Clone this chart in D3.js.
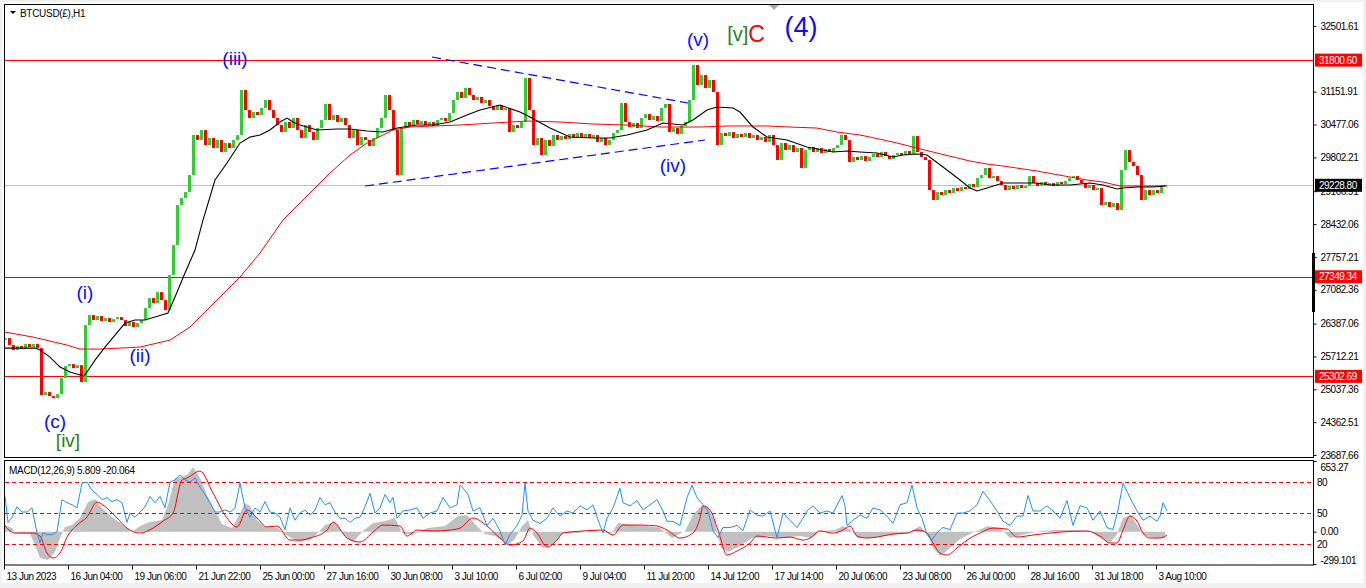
<!DOCTYPE html>
<html>
<head>
<meta charset="utf-8">
<script src="https://cdn.jsdelivr.net/npm/d3@7.9.0/dist/d3.min.js"></script>
<style>
  html, body { margin: 0; padding: 0; background: #fff; overflow: hidden; }
  svg { display: block; font-family: "Liberation Sans", Arial, sans-serif; }
</style>
</head>
<body>
<div id="chart"></div>
<script>
// H1 closes, one every 4 bars (bar 0 = 13 Jun 2023 00:00)
const barStep = 4;
const closes = [26090,25946,25843,25926,25864,25967,25905,25967,25885,24919,24980,24898,24857,24939,25268,25515,25556,25473,25535,25186,
  26357,26563,26460,26542,26439,26501,26419,26480,26522,26460,26337,26419,26316,26398,26460,26706,26912,26809,27035,26871,26665,
  27385,28001,28823,28967,29090,29440,30262,30159,30364,30056,30200,29994,30159,29912,30097,29994,30159,30262,
  31186,30775,30611,30734,30673,30816,30981,30775,30611,30467,30323,30529,30405,30611,30364,30200,30467,30323,30159,30405,30570,30899,
  30570,30673,30529,30611,30467,30200,30364,30056,30220,30159,30036,30200,30405,30611,31084,30775,30364,29440,30405,
  30529,30447,30570,30488,30549,30467,30529,30447,30570,30611,30549,30714,30981,31145,31022,31228,31084,30981,31043,30919,30981,30858,30775,30878,30775,30816,
  30323,30467,30405,30529,31433,30775,30056,30200,29851,30159,30036,30262,30159,30241,30179,30282,30200,30303,30220,30282,30200,30262,30118,30200,30056,30159,30303,30364,
  30919,30529,30426,30508,30405,30611,30693,30570,30652,30549,30816,30899,30323,30405,30282,30447,30529,30981,31700,31289,31495,31228,31392,31145,
  30056,30303,30241,30323,30200,30282,30220,30303,30200,30262,30159,30220,30118,30262,30056,29748,30097,29953,30056,29912,29994,29584,
  29953,30015,29912,29994,29892,29974,29912,29994,30056,30262,30159,29707,29810,29748,29830,29727,29810,29871,29810,29912,29830,29768,29851,29892,29851,29933,29871,30241,29912,29810,29748,
  29131,28926,29090,29029,29131,29070,29172,29111,29193,29152,29255,29193,29378,29440,29584,29378,29419,29316,29234,29131,29214,29152,29234,29172,29214,
  29419,29275,29214,29296,29234,29275,29214,29296,29255,29316,29378,29419,29337,29275,29172,29234,29131,29172,
  28823,28885,28782,28864,28720,29542,29953,29707,29625,29440,28926,29131,29029,29131,29070,29234,29229];

// moving averages [bar, price]
const maFast = [[0,25884],[30,25884],[35,25843],[45,25700],[55,25494],[65,25391],[75,25330],[80,25330],[90,25638],[100,25905],
  [110,26152],[120,26398],[130,26460],[140,26460],[150,26522],[163,26604],[170,26933],[180,27426],[190,27898],[198,28515],
  [210,29337],[222,29686],[235,30097],[245,30220],[255,30262],[265,30364],[275,30529],[282,30611],[288,30529],[295,30467],
  [312,30364],[332,30385],[345,30385],[362,30344],[378,30323],[392,30405],[412,30467],[428,30467],[445,30529],[462,30673],
  [475,30775],[495,30878],[515,30734],[525,30632],[545,30405],[565,30220],[588,30200],[605,30200],[622,30262],[642,30364],
  [658,30508],[678,30467],[688,30570],[702,30775],[712,30837],[728,30816],[735,30734],[748,30426],[762,30220],[782,30159],
  [802,30015],[828,29912],[842,29933],[855,29912],[872,29892],[888,29810],[898,29851],[912,29871],[922,29851],[938,29604],
  [955,29337],[965,29172],[972,29111],[982,29172],[998,29275],[1032,29275],[1045,29234],[1065,29234],[1085,29275],[1098,29234],
  [1112,29152],[1118,29172],[1132,29193],[1148,29193],[1160,29214]];
const maSlow = [[0,26213],[28,26111],[62,25946],[75,25864],[95,25864],[135,25905],[165,26049],[185,26316],[212,26871],[235,27344],
  [255,27837],[278,28515],[305,29070],[325,29481],[345,29851],[362,30097],[378,30262],[388,30364],[405,30426],[428,30447],
  [455,30467],[488,30508],[522,30549],[555,30529],[588,30488],[622,30467],[655,30426],[695,30426],[722,30447],[762,30447],
  [785,30426],[812,30405],[832,30323],[855,30262],[865,30220],[892,30097],[912,29994],[932,29892],[965,29727],[982,29666],
  [998,29625],[1032,29522],[1065,29399],[1082,29337],[1098,29296],[1115,29214],[1132,29214],[1160,29214]];

// horizontal levels and trend channel [bar, price]
const redLevels = [31800.60, 27349.34, 25302.69];
const lastPrice = 29228.80;
const trendUpper = [[427,31864],[683,30919]];
const trendLower = [[360,29214],[700,30159]];

// wave labels
const waveLabels = [
  {t:"(iii)", bar:230, price:31844, color:"#0a0aff", size:19},
  {t:"(v)",   bar:693, price:32214, color:"#0a0aff", size:19},
  {t:"(4)",   bar:796, price:32481, color:"#0a0aff", size:27},
  {t:"(iv)",  bar:668, price:29645, color:"#0a0aff", size:19},
  {t:"(i)",   bar:80,  price:27035, color:"#0a0aff", size:19},
  {t:"(ii)",  bar:135, price:25740, color:"#0a0aff", size:19},
  {t:"(c)",   bar:50,  price:24384, color:"#0a0aff", size:19},
  {t:"[iv]",  bar:63,  price:23994, color:"#2a7d1a", size:19}
];

// MACD(12,26,9): main (histogram) and signal [bar, value]
const macdMain = [[0,61],[7,33],[10,-13],[25,-22],[30,-124],[35,-244],[43,-263],[50,-189],[55,-59],[60,43],[67,61],[75,126],
  [83,274],[90,301],[97,218],[107,135],[117,70],[127,-4],[135,52],[145,89],[157,107],[163,246],[170,496],[177,505],[183,533],
  [188,598],[195,496],[202,338],[210,190],[217,70],[227,33],[233,135],[240,265],[245,237],[252,107],[260,43],[273,33],[283,-41],
  [293,-96],[305,-78],[312,-22],[320,61],[330,89],[339,-31],[348,-96],[358,6],[368,80],[380,98],[390,126],[397,-13],[407,-31],
  [423,33],[440,52],[453,144],[462,154],[470,70],[480,-22],[490,-41],[498,-87],[503,-124],[510,-68],[517,52],[523,107],
  [528,-31],[538,-152],[548,-115],[558,-13],[575,-13],[590,15],[600,-13],[607,-13],[613,80],[627,61],[643,52],[655,33],
  [667,-59],[680,6],[688,154],[697,246],[703,228],[710,89],[716,-152],[723,-189],[735,-133],[747,-59],[763,-41],[777,-59],
  [795,-41],[807,-59],[815,6],[830,15],[838,52],[846,15],[853,-59],[865,-59],[885,-31],[903,-13],[915,52],[922,-13],
  [928,-152],[935,-226],[945,-152],[955,-68],[967,-13],[983,52],[995,33],[1005,-59],[1017,-31],[1035,6],[1050,15],[1070,15],
  [1085,6],[1095,-59],[1105,-106],[1112,-22],[1118,126],[1126,154],[1132,61],[1140,-41],[1150,-59],[1160,-59]];
const macdSignal = [[0,52],[10,-13],[28,-13],[35,-41],[42,-198],[48,-244],[55,-198],[62,-50],[72,61],[82,135],[92,274],[98,246],
  [112,126],[122,33],[135,-13],[148,33],[158,98],[168,172],[177,477],[182,496],[195,560],[208,357],[222,126],[232,43],[242,200],
  [252,126],[262,43],[272,52],[285,-78],[295,-78],[305,-59],[322,15],[328,89],[342,-59],[355,-96],[368,-4],[378,61],[395,52],
  [402,-41],[412,15],[428,6],[445,15],[455,33],[468,126],[482,52],[495,-59],[505,-124],[518,-87],[525,33],[532,-13],[542,-142],
  [552,-78],[558,-13],[578,6],[598,15],[608,-31],[618,61],[635,61],[652,52],[662,15],[675,-59],[688,-13],[695,126],[698,237],
  [705,200],[713,15],[722,-216],[732,-179],[745,-105],[752,-41],[772,-59],[785,-50],[798,-78],[805,-59],[815,6],[828,-13],
  [838,15],[845,52],[852,-41],[862,-59],[872,-50],[888,-22],[902,-13],[912,15],[922,-13],[928,-105],[935,-198],[942,-216],
  [952,-152],[962,-78],[975,-13],[988,33],[1002,24],[1012,-50],[1028,-31],[1055,-4],[1082,6],[1095,-41],[1105,-105],[1112,-105],
  [1118,15],[1125,144],[1132,98],[1138,-13],[1145,-59],[1155,-59],[1162,-31]];
// overlaid oscillator (0-100) with levels 80/50/20
const osc = [[0,66],[3,41],[7,46],[12,56],[17,51],[22,51],[27,55],[32,31],[35,21],[38,31],[42,29],[47,29],[52,32],[57,63],[62,60],
  [67,58],[72,55],[77,79],[82,80],[87,72],[92,68],[97,63],[102,65],[107,61],[112,63],[117,60],[122,41],[125,50],[130,46],[135,51],
  [140,56],[145,66],[150,60],[155,66],[160,55],[165,80],[170,82],[175,87],[180,82],[185,80],[190,84],[195,75],[200,68],[205,60],
  [210,51],[215,51],[220,53],[225,51],[230,55],[235,79],[240,55],[245,46],[250,55],[255,51],[260,61],[265,51],[270,50],[275,46],
  [280,34],[285,55],[290,43],[295,50],[300,53],[305,48],[310,53],[315,65],[320,58],[325,60],[330,51],[335,45],[340,45],[345,41],
  [350,45],[355,46],[360,56],[365,69],[370,50],[375,55],[380,68],[385,60],[388,65],[392,45],[398,52],[405,53],[412,55],[418,45],
  [425,50],[432,52],[438,65],[445,55],[452,58],[455,77],[458,74],[463,68],[468,52],[475,55],[482,38],[488,45],[495,33],[500,19],
  [505,29],[512,38],[517,48],[520,79],[523,52],[528,43],[535,40],[542,45],[548,55],[555,47],[562,52],[568,50],[575,57],[582,53],
  [588,58],[595,38],[598,31],[602,45],[608,55],[615,74],[618,60],[625,57],[632,62],[638,53],[645,58],[652,63],[658,52],[662,42],
  [668,42],[675,38],[682,65],[687,77],[692,65],[698,58],[703,52],[708,33],[713,26],[718,36],[725,36],[732,38],[738,33],[745,53],
  [752,48],[758,47],[765,52],[772,26],[778,50],[785,43],[792,36],[798,45],[802,52],[808,57],[815,50],[822,52],[828,50],[837,67],
  [840,57],[842,38],[848,43],[855,48],[862,45],[868,55],[875,53],[882,47],[888,40],[895,58],[902,60],[907,77],[912,55],[917,45],
  [922,29],[927,24],[932,31],[938,36],[945,34],[952,50],[958,50],[965,52],[972,58],[978,71],[985,62],[992,52],[998,42],[1005,38],
  [1012,47],[1018,47],[1023,67],[1028,52],[1035,52],[1042,57],[1048,52],[1055,45],[1062,62],[1068,38],[1075,57],[1082,55],
  [1088,43],[1095,52],[1102,36],[1108,34],[1113,53],[1118,79],[1125,65],[1132,52],[1138,43],[1145,47],[1152,42],[1155,47],
  [1158,60],[1162,52]];
const oscLevels = [80, 50, 20];

// axis labels
const priceTicks = [32501.61, 31151.91, 30477.06, 29802.21, 29106.91, 28432.06, 27757.21, 27082.36,
  26387.06, 25712.21, 25037.36, 24362.51, 23687.66];
const macdTicks = [653.27, 0.00, -299.101];
const xLabelStep = 64;
const xLabels = ["13 Jun 2023","16 Jun 04:00","19 Jun 06:00","21 Jun 22:00","25 Jun 00:00","27 Jun 16:00",
  "30 Jun 08:00","3 Jul 10:00","6 Jul 02:00","9 Jul 04:00","11 Jul 20:00","14 Jul 12:00","17 Jul 14:00",
  "20 Jul 06:00","23 Jul 08:00","26 Jul 00:00","28 Jul 16:00","31 Jul 18:00","3 Aug 10:00"];

// layout
const W = 1366, H = 588;
const L = 5, R = 1313, mainTop = 5, mainBot = 457, subTop = 461, subBot = 565;

const svg = d3.select("#chart").append("svg").attr("width", W).attr("height", H);

// window chrome
svg.append("rect").attr("width", W).attr("height", H).attr("fill", "#f0f0f0");
svg.append("rect").attr("x", 2).attr("y", 2).attr("width", 1361).attr("height", 581).attr("fill", "#fff");

const x = d3.scaleLinear().domain([0, R - L]).range([L, R]);
const y = d3.scaleLinear().domain([23687.66, 32501.61]).range([455, 26]);
const yM = d3.scaleLinear().domain([-299.101, 653.27]).range([564, 461]);
const yO = d3.scaleLinear().domain([0, 100]).range([564.7, 461.4]);

const defs = svg.append("defs");
defs.append("clipPath").attr("id", "clipMain").append("rect")
  .attr("x", L).attr("y", mainTop).attr("width", R - L).attr("height", mainBot - mainTop);
defs.append("clipPath").attr("id", "clipSub").append("rect")
  .attr("x", L).attr("y", subTop).attr("width", R - L).attr("height", subBot - subTop);

// ---------- main panel ----------
const main = svg.append("g").attr("clip-path", "url(#clipMain)");

main.selectAll("line.level").data(redLevels).join("line")
  .attr("x1", L).attr("x2", R)
  .attr("y1", d => Math.round(y(d)) + 0.5).attr("y2", d => Math.round(y(d)) + 0.5)
  .attr("stroke", "#ff0000").attr("stroke-width", 1);
main.append("line")
  .attr("x1", L).attr("x2", R)
  .attr("y1", Math.round(y(lastPrice)) + 0.5).attr("y2", Math.round(y(lastPrice)) + 0.5)
  .attr("stroke", "#c0c0c0");

const line = d3.line().x(d => x(d[0])).y(d => y(d[1]));

[trendUpper, trendLower].forEach(t => {
  main.append("path").attr("d", line(t)).attr("fill", "none")
    .attr("stroke", "#0000ff").attr("stroke-width", 1.2).attr("stroke-dasharray", "9,5");
});

const candles = closes.map((c, i) => ({bar: i * barStep, open: i ? closes[i - 1] : c, close: c}));
main.selectAll("rect.candle").data(candles).join("rect")
  .attr("x", d => x(d.bar) - 1)
  .attr("width", 3)
  .attr("y", d => y(Math.max(d.open, d.close)))
  .attr("height", d => Math.max(1.5, Math.abs(y(d.open) - y(d.close))))
  .attr("fill", d => d.close >= d.open ? "#32cd32" : "#ff0000");

main.append("path").attr("d", line(maSlow)).attr("fill", "none").attr("stroke", "#ff0000").attr("stroke-width", 1);
main.append("path").attr("d", line(maFast)).attr("fill", "none").attr("stroke", "#000").attr("stroke-width", 1.1);

// wave count labels
svg.selectAll("text.wave").data(waveLabels).join("text")
  .attr("x", d => x(d.bar)).attr("y", d => y(d.price))
  .attr("text-anchor", "middle").attr("dominant-baseline", "central")
  .attr("fill", d => d.color).style("font-size", d => d.size + "px")
  .text(d => d.t);
const vc = svg.append("text").attr("x", x(741)).attr("y", y(32340))
  .attr("text-anchor", "middle").attr("dominant-baseline", "central").style("font-size", "20px");
vc.append("tspan").attr("fill", "#2a7d1a").text("[v]");
vc.append("tspan").attr("fill", "#ff0000").style("font-size", "23px").text("C");

// ---------- indicator panel ----------
const sub = svg.append("g").attr("clip-path", "url(#clipSub)");
sub.append("path")
  .attr("d", d3.area().x(d => x(d[0])).y0(yM(0)).y1(d => yM(d[1]))(macdMain))
  .attr("fill", "#c0c0c0");
sub.selectAll("line.olev").data(oscLevels).join("line")
  .attr("x1", L).attr("x2", R)
  .attr("y1", d => Math.round(yO(d)) + 0.5).attr("y2", d => Math.round(yO(d)) + 0.5)
  .attr("stroke", "#ff0000").attr("stroke-dasharray", "4,3");
sub.append("path")
  .attr("d", d3.line().x(d => x(d[0])).y(d => yM(d[1])).curve(d3.curveMonotoneX)(macdSignal))
  .attr("fill", "none").attr("stroke", "#ff0000").attr("stroke-width", 1);
sub.append("path")
  .attr("d", d3.line().x(d => x(d[0])).y(d => yO(d[1]))(osc))
  .attr("fill", "none").attr("stroke", "#1e90ff").attr("stroke-width", 1);

// ---------- frames ----------
svg.append("rect").attr("x", 4.5).attr("y", 4.5).attr("width", R - 4).attr("height", mainBot - 4)
  .attr("fill", "none").attr("stroke", "#000");
svg.append("rect").attr("x", 4.5).attr("y", subTop - 0.5).attr("width", R - 4).attr("height", subBot - subTop + 0.5)
  .attr("fill", "none").attr("stroke", "#000");
svg.append("rect").attr("x", R - 1).attr("y", 253).attr("width", 3).attr("height", 59).attr("fill", "#000");
svg.append("path").attr("d", "M769,5L779,5L774,10Z").attr("fill", "#a8a8a8");

// ---------- axes ----------
const axisText = sel => sel.selectAll("text")
  .style("font-family", "'Liberation Sans', Arial, sans-serif").style("font-size", "10px")
  .attr("fill", "#000").style("letter-spacing", "-0.5px");

const yAxis = svg.append("g").attr("transform", `translate(${R + 0.5},0)`)
  .call(d3.axisRight(y).tickValues(priceTicks).tickSize(3).tickPadding(4).tickFormat(d3.format(".2f")));
yAxis.select(".domain").remove();
yAxis.call(axisText);

const mAxis = svg.append("g").attr("transform", `translate(${R + 0.5},0)`)
  .call(d3.axisRight(yM).tickValues(macdTicks).tickSize(3).tickPadding(4).tickFormat(d => d === 0 ? "0.00" : String(d)));
mAxis.select(".domain").remove();
mAxis.selectAll(".tick text").attr("dy", d => d === 653.27 ? "0.95em" : d < 0 ? "-0.1em" : "0.32em");
mAxis.call(axisText);

svg.selectAll("text.olab").data(oscLevels).join("text")
  .attr("x", R + 4).attr("y", d => yO(d)).attr("dominant-baseline", "central")
  .style("font-size", "10px").style("letter-spacing", "-0.5px").text(d => d);

const xAxis = svg.append("g").attr("transform", `translate(0,${subBot + 0.5})`)
  .call(d3.axisBottom(x).tickValues(xLabels.map((_, i) => i * xLabelStep)).tickSize(4).tickPadding(3)
    .tickFormat((d, i) => xLabels[i]));
xAxis.select(".domain").remove();
xAxis.selectAll(".tick line").attr("transform", "translate(-1,0)");
xAxis.selectAll(".tick text").attr("text-anchor", "start").attr("x", 1);
xAxis.call(axisText);

// price tags on the scale
const tag = (price, bg) => {
  const g = svg.append("g").attr("transform", `translate(${R + 2},${y(price)})`);
  g.append("rect").attr("x", 0).attr("y", -6.5).attr("width", 47).attr("height", 13).attr("fill", bg);
  g.append("text").attr("x", 4).attr("y", 0).attr("dominant-baseline", "central")
    .attr("fill", "#fff").style("font-size", "10px").style("letter-spacing", "-0.5px")
    .text(price.toFixed(2));
};
redLevels.forEach(p => tag(p, "#ff0000"));
tag(lastPrice, "#000");

// titles
svg.append("path").attr("d", "M10,11L16,11L13,14Z").attr("fill", "#000");
svg.append("text").attr("x", 20).attr("y", 16.5).style("font-size", "10px").style("letter-spacing", "-0.3px")
  .text("BTCUSD(£),H1");
svg.append("text").attr("x", 9).attr("y", 473.5).style("font-size", "10px").style("letter-spacing", "-0.3px")
  .text("MACD(12,26,9) 5.809 -20.064");
</script>
</body>
</html>
